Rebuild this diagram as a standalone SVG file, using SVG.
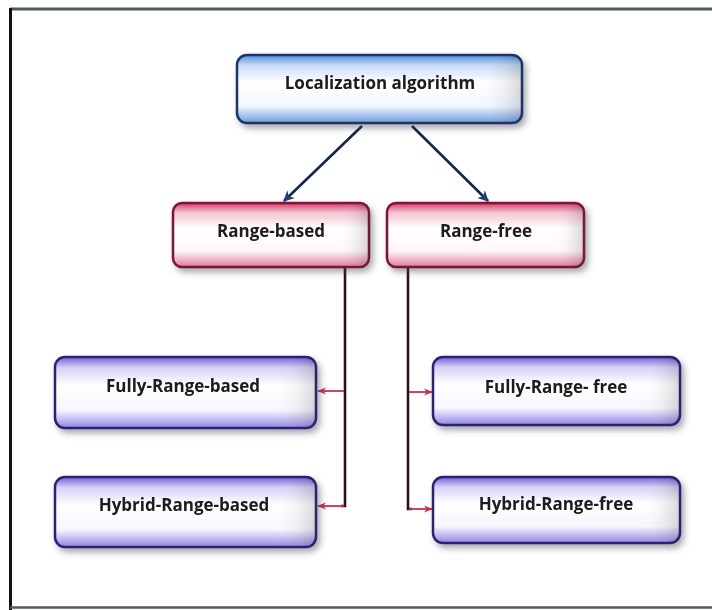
<svg xmlns="http://www.w3.org/2000/svg" width="712" height="610" viewBox="0 0 712 610">
  <defs>
    <style>
      .label { font-family: "Open Sans", "DejaVu Sans", sans-serif; font-weight: 700; font-size: 17px; fill: #1a1a1a; text-anchor: middle; }
      .box { stroke-width: 2.5; }
      .blue { fill: url(#gBlue); stroke: #1f3563; }
      .pink { fill: url(#gPink); stroke: #7a1433; }
      .violet { fill: url(#gViolet); stroke: #2e2470; }
      .shine { fill: url(#gShine); stroke: none; }
      .trunk { stroke: #2a1416; stroke-width: 2.6; fill: none; }
      .branch { stroke: #c8304c; stroke-width: 1.8; fill: none; marker-end: url(#arrRed); }
      .link { stroke: #14264a; stroke-width: 2.6; fill: none; marker-end: url(#arrBlue); }
    </style>
    <linearGradient id="gBlue" x1="0" y1="0" x2="0" y2="1">
      <stop offset="0" stop-color="#4f8ad8"/>
      <stop offset="0.15" stop-color="#c6dbf6"/>
      <stop offset="0.4" stop-color="#ffffff"/>
      <stop offset="0.75" stop-color="#f2f7ff"/>
      <stop offset="1" stop-color="#6d9be0"/>
    </linearGradient>
    <linearGradient id="gPink" x1="0" y1="0" x2="0" y2="1">
      <stop offset="0" stop-color="#d03a66"/>
      <stop offset="0.15" stop-color="#f4c4d2"/>
      <stop offset="0.4" stop-color="#ffffff"/>
      <stop offset="0.75" stop-color="#fff6f8"/>
      <stop offset="1" stop-color="#e07a98"/>
    </linearGradient>
    <linearGradient id="gViolet" x1="0" y1="0" x2="0" y2="1">
      <stop offset="0" stop-color="#6f5fd6"/>
      <stop offset="0.15" stop-color="#d6d0f6"/>
      <stop offset="0.4" stop-color="#ffffff"/>
      <stop offset="0.75" stop-color="#f7f5ff"/>
      <stop offset="1" stop-color="#9186e2"/>
    </linearGradient>
    <linearGradient id="gShine" x1="0" y1="0" x2="1" y2="0">
      <stop offset="0" stop-color="#ffffff" stop-opacity="0"/>
      <stop offset="0.85" stop-color="#ffffff" stop-opacity="0"/>
      <stop offset="1" stop-color="#000000" stop-opacity="0.15"/>
    </linearGradient>
    <filter id="shadow" x="-10%" y="-20%" width="125%" height="150%">
      <feDropShadow dx="3" dy="4" stdDeviation="3" flood-color="#3a3f55" flood-opacity="0.45"/>
    </filter>
    <marker id="arrBlue" viewBox="0 0 10 10" refX="9" refY="5" markerWidth="11" markerHeight="11" orient="auto" markerUnits="userSpaceOnUse">
      <path d="M0,0 L10,5 L0,10 L3,5 Z" fill="#1d3f7a"/>
    </marker>
    <marker id="arrRed" viewBox="0 0 10 10" refX="9" refY="5" markerWidth="9" markerHeight="9" orient="auto" markerUnits="userSpaceOnUse">
      <path d="M0,1 L10,5 L0,9 L3,5 Z" fill="#c8304c"/>
    </marker>
  </defs>

  <rect x="0" y="0" width="712" height="610" fill="#ffffff"/>

  <!-- outer frame -->
  <g id="frame">
    <line x1="10" y1="9" x2="712" y2="9" stroke="#4e5c58" stroke-width="3"/>
    <line x1="10.5" y1="8" x2="10.5" y2="610" stroke="#111111" stroke-width="3"/>
    <line x1="10" y1="607.5" x2="712" y2="607.5" stroke="#4e5c58" stroke-width="2.5"/>
  </g>

  <!-- connectors -->
  <g id="connectors">
    <line class="link" x1="362" y1="126" x2="284" y2="201"/>
    <line class="link" x1="412" y1="126" x2="488" y2="201"/>

    <polyline class="trunk" points="345,267 345,506 341,506"/>
    <line class="branch" x1="344" y1="391" x2="318" y2="391"/>
    <line class="branch" x1="344" y1="506" x2="318" y2="506"/>

    <polyline class="trunk" points="408,267 408,509 412,509"/>
    <line class="branch" x1="409" y1="392" x2="432" y2="392"/>
    <line class="branch" x1="409" y1="509" x2="432" y2="509"/>
  </g>

  <g id="node-localization" filter="url(#shadow)">
    <rect class="box blue" x="237" y="55" width="285" height="68" rx="10"/>
    <rect class="shine" x="238" y="56" width="283" height="66" rx="9"/>
    <text class="label" x="380" y="89" font-size="18">Localization algorithm</text>
  </g>

  <g id="node-range-based" filter="url(#shadow)">
    <rect class="box pink" x="173" y="203" width="196" height="64" rx="9"/>
    <rect class="shine" x="174" y="204" width="194" height="62" rx="8"/>
    <text class="label" x="271" y="237">Range-based</text>
  </g>

  <g id="node-range-free" filter="url(#shadow)">
    <rect class="box pink" x="387" y="203" width="197" height="64" rx="9"/>
    <rect class="shine" x="388" y="204" width="195" height="62" rx="8"/>
    <text class="label" x="486" y="237">Range-free</text>
  </g>

  <g id="node-fully-range-based" filter="url(#shadow)">
    <rect class="box violet" x="55" y="357" width="261" height="71" rx="10"/>
    <rect class="shine" x="56" y="358" width="259" height="69" rx="9"/>
    <text class="label" x="183" y="392">Fully-Range-based</text>
  </g>

  <g id="node-hybrid-range-based" filter="url(#shadow)">
    <rect class="box violet" x="55" y="477" width="261" height="70" rx="10"/>
    <rect class="shine" x="56" y="478" width="259" height="68" rx="9"/>
    <text class="label" x="184" y="511">Hybrid-Range-based</text>
  </g>

  <g id="node-fully-range-free" filter="url(#shadow)">
    <rect class="box violet" x="433" y="357" width="247" height="68" rx="10"/>
    <rect class="shine" x="434" y="358" width="245" height="66" rx="9"/>
    <text class="label" x="556" y="393">Fully-Range- free</text>
  </g>

  <g id="node-hybrid-range-free" filter="url(#shadow)">
    <rect class="box violet" x="433" y="477" width="247" height="66" rx="10"/>
    <rect class="shine" x="434" y="478" width="245" height="64" rx="9"/>
    <text class="label" x="556" y="510">Hybrid-Range-free</text>
  </g>
</svg>
